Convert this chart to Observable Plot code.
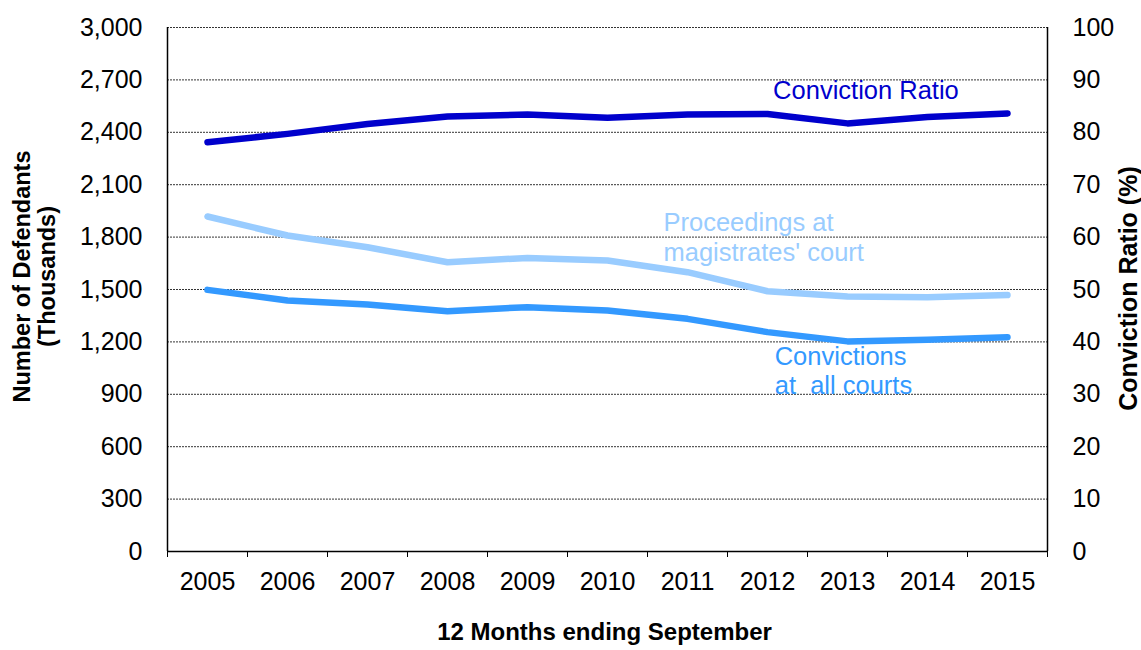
<!DOCTYPE html>
<html><head><meta charset="utf-8">
<script src="https://cdn.jsdelivr.net/npm/d3@7"></script>
<script src="https://cdn.jsdelivr.net/npm/@observablehq/plot@0.6"></script>
<style>body{margin:0;background:#fff}</style>
</head><body><div id="chart"></div>
<script>
const years = [2005, 2006, 2007, 2008, 2009, 2010, 2011, 2012, 2013, 2014, 2015];
const proceedings = [1918, 1809, 1742, 1656, 1681, 1666, 1599, 1490, 1460, 1456, 1468];
const convictions = [1498, 1437, 1414, 1376, 1399, 1380, 1332, 1256, 1203, 1212, 1227];
const convictionRatio = [78.1, 79.7, 81.6, 83.0, 83.4, 82.8, 83.4, 83.5, 81.7, 82.9, 83.6];
const leftTicks = [0, 300, 600, 900, 1200, 1500, 1800, 2100, 2400, 2700, 3000];
const rightTicks = [0, 10, 20, 30, 40, 50, 60, 70, 80, 90, 100];

const ratioFactor = 3000 / 100;
const rows = years.map((y, i) => ({year: y, proceedings: proceedings[i], convictions: convictions[i], ratio: convictionRatio[i]}));
const boundaries = years.map(y => y - 0.5).concat([years[years.length - 1] + 0.5]);

const font = "'Liberation Sans', Arial, sans-serif";
const plot = Plot.plot({
  width: 1141, height: 650,
  marginTop: 27, marginBottom: 99, marginLeft: 167, marginRight: 94,
  style: {fontFamily: font, fontSize: "25px", color: "#000", background: "#fff", overflow: "visible"},
  x: {domain: [boundaries[0], boundaries[boundaries.length - 1]]},
  y: {domain: [0, 3000]},
  marks: [
    Plot.gridY(leftTicks.filter(d => d > 0), {stroke: "#000", strokeOpacity: 0.8, strokeDasharray: "2,1", strokeWidth: 1}),
    Plot.axisY({ticks: leftTicks, tickSize: 0, tickPadding: 25, tickFormat: d3.format(","), label: null, fontSize: 25}),
    Plot.axisY({anchor: "right", ticks: rightTicks.map(d => d * ratioFactor), tickSize: 0, tickPadding: 25,
      tickFormat: d => String(Math.round(d / ratioFactor)), label: null, fontSize: 25}),
    Plot.axisX({ticks: boundaries, tickSize: 6, tickFormat: () => "", label: null, stroke: "#000"}),
    Plot.axisX({ticks: years, tickSize: 0, tickPadding: 21, tickFormat: d => String(d), label: null, fontSize: 25}),
    Plot.ruleX([boundaries[0], boundaries[boundaries.length - 1]], {stroke: "#000", strokeWidth: 1.5}),
    Plot.ruleY([0], {stroke: "#000", strokeWidth: 1.5}),
    Plot.line(rows, {x: "year", y: "proceedings", stroke: "#99CCFF", strokeWidth: 6.5, strokeLinecap: "round", strokeLinejoin: "round"}),
    Plot.line(rows, {x: "year", y: "convictions", stroke: "#3399FF", strokeWidth: 6.5, strokeLinecap: "round", strokeLinejoin: "round"}),
    Plot.line(rows, {x: "year", y: d => d.ratio * ratioFactor, stroke: "#0000CC", strokeWidth: 6.5, strokeLinecap: "round", strokeLinejoin: "round"}),
    Plot.text(["Conviction Ratio"], {x: 2012.07, y: 2640, text: d => d, textAnchor: "start", lineAnchor: "middle", fill: "#0000CC", fontSize: 25.5}),
    Plot.text(["Proceedings at\nmagistrates' court"], {x: 2010.7, y: 1960, text: d => d, textAnchor: "start", lineAnchor: "top", lineHeight: 1.18, fill: "#99CCFF", fontSize: 25.5}),
    Plot.text(["Convictions\nat\u00a0 all courts"], {x: 2012.09, y: 1186, text: d => d, textAnchor: "start", lineAnchor: "top", lineHeight: 1.15, fill: "#3399FF", fontSize: 25.5}),
    Plot.text(["12 Months ending September"], {frameAnchor: "bottom", dx: -3, dy: 81, text: d => d, textAnchor: "middle", lineAnchor: "middle", fontWeight: "bold", fontSize: 24, fill: "#000"}),
    Plot.text(["Number of Defendants\n(Thousands)"], {frameAnchor: "left", dx: -133, dy: -13, rotate: -90, text: d => d, textAnchor: "middle", lineAnchor: "middle", lineHeight: 1.05, fontWeight: "bold", fontSize: 23.5, fill: "#000"}),
    Plot.text(["Conviction Ratio (%)"], {frameAnchor: "right", dx: 81, dy: -1, rotate: -90, text: d => d, textAnchor: "middle", lineAnchor: "middle", fontWeight: "bold", fontSize: 25, fill: "#000"})
  ]
});
document.getElementById("chart").appendChild(plot);
</script>
</body></html>
